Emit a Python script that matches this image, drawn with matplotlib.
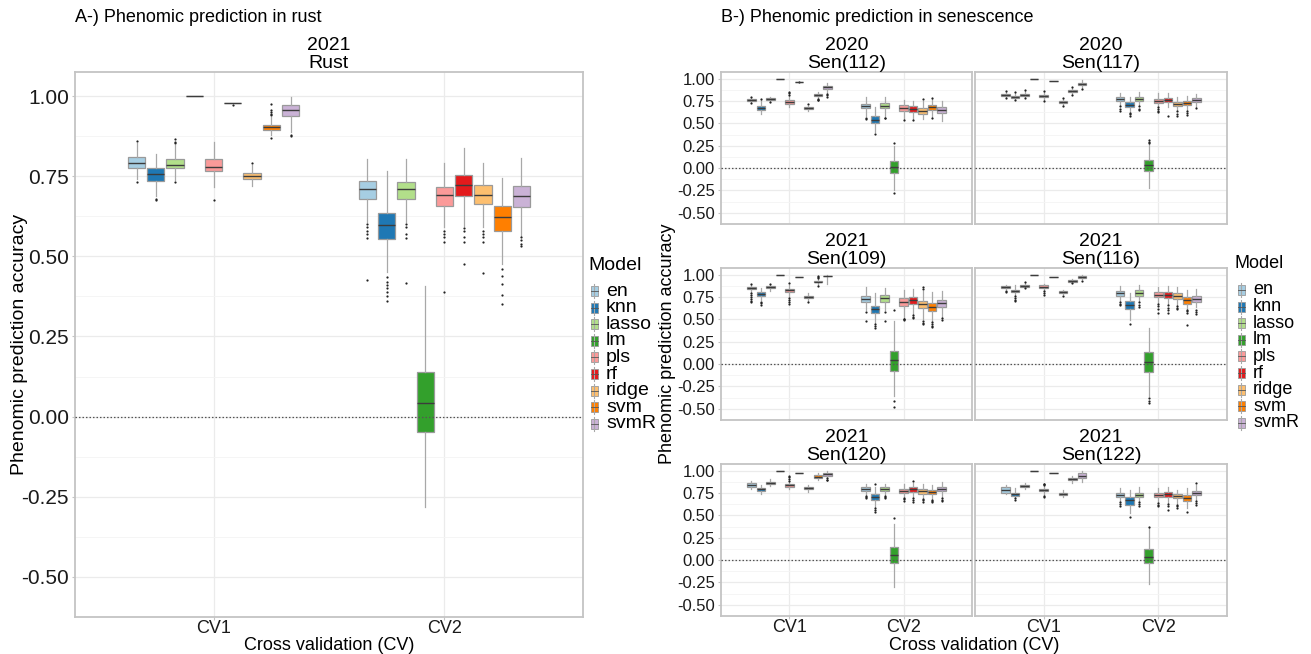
import numpy as np
import matplotlib.pyplot as plt
from matplotlib.patches import Rectangle
from matplotlib.lines import Line2D

plt.rcParams['font.family'] = ['Liberation Sans', 'DejaVu Sans']

models = ['en', 'knn', 'lasso', 'lm', 'pls', 'rf', 'ridge', 'svm', 'svmR']
colors = ['#A6CEE3', '#1F78B4', '#B2DF8A', '#33A02C', '#FB9A99',
          '#E31A1C', '#FDBF6F', '#FF7F00', '#CAB2D6']
cv_labels = ['CV1', 'CV2']
y_ticks = [-0.5, -0.25, 0.0, 0.25, 0.5, 0.75, 1.0]
y_tick_labels = ['-0.50', '-0.25', '0.00', '0.25', '0.50', '0.75', '1.00']

# box stats per model: (whisker low, q1, median, q3, whisker high)
rust_cv1 = [(0.74, 0.777, 0.792, 0.810, 0.855), (0.687, 0.735, 0.756, 0.774, 0.82),
            (0.738, 0.774, 0.786, 0.803, 0.848), (1.0, 1.0, 1.0, 1.0, 1.0),
            (0.717, 0.765, 0.780, 0.804, 0.857), (0.978, 0.978, 0.978, 0.978, 0.978),
            (0.72, 0.742, 0.751, 0.760, 0.785), (0.877, 0.893, 0.902, 0.909, 0.935),
            (0.889, 0.937, 0.955, 0.972, 0.998)]
rust_cv1_out = [[0.732, 0.86], [0.675, 0.678], [0.732, 0.852, 0.858, 0.865], [], [0.677],
                [0.972], [0.79], [0.87, 0.94, 0.945, 0.95, 0.955, 0.975], [0.875, 0.88]]
rust_cv2 = [(0.606, 0.680, 0.710, 0.735, 0.804), (0.45, 0.555, 0.598, 0.635, 0.765),
            (0.606, 0.680, 0.711, 0.733, 0.804), (-0.283, -0.049, 0.044, 0.138, 0.406),
            (0.59, 0.658, 0.692, 0.715, 0.791), (0.596, 0.687, 0.724, 0.755, 0.838),
            (0.59, 0.662, 0.692, 0.721, 0.792), (0.475, 0.579, 0.622, 0.657, 0.745),
            (0.565, 0.655, 0.689, 0.719, 0.808)]
rust_cv2_out = [[0.6, 0.59, 0.58, 0.57, 0.556, 0.427], [0.435, 0.42, 0.41, 0.40, 0.39, 0.375, 0.362],
                [0.6, 0.59, 0.57, 0.556, 0.417], [], [0.58, 0.57, 0.56, 0.545, 0.389],
                [0.588, 0.58, 0.56, 0.545, 0.475], [0.58, 0.57, 0.56, 0.545, 0.449],
                [0.46, 0.44, 0.415, 0.38, 0.35], [0.56, 0.55, 0.54, 0.533]]

s112_cv1 = [(0.735, 0.75, 0.758, 0.77, 0.785), (0.606, 0.646, 0.671, 0.697, 0.76),
            (0.745, 0.758, 0.769, 0.78, 0.79), (1.0, 1.0, 1.0, 1.0, 1.0),
            (0.682, 0.718, 0.736, 0.758, 0.81), (0.967, 0.967, 0.967, 0.967, 0.967),
            (0.643, 0.661, 0.671, 0.682, 0.70), (0.785, 0.805, 0.816, 0.827, 0.848),
            (0.84, 0.881, 0.903, 0.924, 0.957)]
s112_cv1_out = [[0.79, 0.726], [0.769], [0.735], [], [0.82, 0.835, 0.85], [0.962], [0.715],
                [0.775, 0.765, 0.76], [0.83, 0.815, 0.80]]
s112_cv2 = [(0.58, 0.668, 0.697, 0.722, 0.80), (0.40, 0.502, 0.542, 0.578, 0.68),
            (0.58, 0.668, 0.697, 0.726, 0.79), (-0.24, -0.058, 0.014, 0.076, 0.25),
            (0.55, 0.639, 0.671, 0.704, 0.76), (0.55, 0.625, 0.661, 0.69, 0.755),
            (0.545, 0.61, 0.639, 0.668, 0.75), (0.565, 0.65, 0.682, 0.711, 0.77),
            (0.527, 0.614, 0.646, 0.679, 0.755)]
s112_cv2_out = [[0.565, 0.55], [0.383], [0.565, 0.555], [0.285, -0.274], [0.535], [0.535],
                [0.769], [0.787, 0.555], []]

s117_cv1 = [(0.79, 0.805, 0.819, 0.83, 0.85), (0.77, 0.78, 0.791, 0.805, 0.84),
            (0.79, 0.809, 0.823, 0.834, 0.86), (1.0, 1.0, 1.0, 1.0, 1.0),
            (0.76, 0.794, 0.809, 0.82, 0.85), (0.971, 0.971, 0.971, 0.971, 0.971),
            (0.71, 0.729, 0.74, 0.751, 0.775), (0.83, 0.848, 0.863, 0.874, 0.90),
            (0.89, 0.928, 0.942, 0.957, 0.99)]
s117_cv1_out = [[0.859, 0.78], [0.852, 0.762], [0.87, 0.783], [], [0.863, 0.751], [],
                [0.783, 0.70], [0.906, 0.823], [0.881]]
s117_cv2 = [(0.70, 0.747, 0.769, 0.79, 0.845), (0.63, 0.679, 0.711, 0.736, 0.798),
            (0.70, 0.751, 0.773, 0.794, 0.848), (-0.22, -0.036, 0.032, 0.09, 0.27),
            (0.69, 0.733, 0.755, 0.776, 0.845), (0.68, 0.736, 0.762, 0.787, 0.835),
            (0.645, 0.697, 0.718, 0.74, 0.80), (0.645, 0.704, 0.729, 0.751, 0.805),
            (0.685, 0.74, 0.762, 0.783, 0.83)]
s117_cv2_out = [[0.69, 0.665, 0.643], [0.617, 0.60, 0.58], [0.69, 0.665, 0.645],
                [0.28, 0.29, 0.31], [0.68, 0.66, 0.64, 0.625], [0.58],
                [0.635, 0.61, 0.588], [0.64, 0.615, 0.595], [0.671]]

s109_cv1 = [(0.80, 0.838, 0.848, 0.859, 0.88), (0.72, 0.758, 0.783, 0.809, 0.85),
            (0.82, 0.848, 0.863, 0.877, 0.89), (1.0, 1.0, 1.0, 1.0, 1.0),
            (0.75, 0.809, 0.827, 0.845, 0.88), (0.975, 0.975, 0.975, 0.975, 0.975),
            (0.71, 0.74, 0.755, 0.765, 0.79), (0.89, 0.913, 0.924, 0.931, 0.95),
            (0.90, 0.982, 0.99, 0.99, 0.995)]
s109_cv1_out = [[0.90, 0.794, 0.77, 0.75, 0.73, 0.71, 0.70], [0.693, 0.68, 0.664], [0.90], [],
                [0.903, 0.74, 0.72, 0.70, 0.675], [], [0.70], [0.96, 0.975, 0.982, 0.875], []]
s109_cv2 = [(0.60, 0.70, 0.733, 0.765, 0.863), (0.46, 0.567, 0.614, 0.65, 0.794),
            (0.60, 0.70, 0.736, 0.773, 0.852), (-0.354, -0.076, 0.043, 0.144, 0.477),
            (0.52, 0.65, 0.697, 0.736, 0.83), (0.56, 0.675, 0.718, 0.747, 0.845),
            (0.50, 0.628, 0.675, 0.711, 0.82), (0.48, 0.596, 0.643, 0.679, 0.809),
            (0.52, 0.635, 0.682, 0.718, 0.82)]
s109_cv2_out = [[0.578, 0.477], [0.448, 0.43, 0.404], [0.585, 0.477], [0.61, -0.408, -0.48],
                [0.51, 0.50, 0.49], [0.55, 0.53, 0.513], [0.84, 0.866, 0.484, 0.465, 0.448],
                [0.47, 0.45, 0.43, 0.415], [0.513, 0.495]]

s116_cv1 = [(0.84, 0.848, 0.863, 0.877, 0.89), (0.77, 0.801, 0.816, 0.83, 0.88),
            (0.86, 0.866, 0.877, 0.888, 0.905), (1.0, 1.0, 1.0, 1.0, 1.0),
            (0.82, 0.848, 0.866, 0.88, 0.90), (0.975, 0.975, 0.975, 0.975, 0.975),
            (0.78, 0.798, 0.809, 0.82, 0.83), (0.91, 0.92, 0.931, 0.938, 0.955),
            (0.95, 0.967, 0.978, 0.986, 0.996)]
s116_cv1_out = [[0.82, 0.81], [0.758, 0.74, 0.72, 0.711], [0.917, 0.848], [],
                [0.82, 0.80, 0.776], [], [0.765], [0.903], [0.931]]
s116_cv2 = [(0.70, 0.762, 0.791, 0.82, 0.874), (0.49, 0.617, 0.664, 0.708, 0.794),
            (0.70, 0.765, 0.798, 0.827, 0.88), (-0.354, -0.083, 0.025, 0.13, 0.404),
            (0.68, 0.747, 0.776, 0.805, 0.863), (0.67, 0.74, 0.773, 0.801, 0.874),
            (0.66, 0.733, 0.765, 0.794, 0.866), (0.62, 0.675, 0.715, 0.747, 0.83),
            (0.64, 0.697, 0.729, 0.758, 0.838)]
s116_cv2_out = [[0.693, 0.675, 0.66], [0.451], [0.693, 0.665, 0.639], [-0.383, -0.41, -0.433],
                [0.675, 0.65, 0.62, 0.567], [0.66, 0.63, 0.60, 0.567], [0.65, 0.63, 0.614],
                [0.61, 0.59, 0.567, 0.44], [0.603, 0.58, 0.556]]

s120_cv1 = [(0.80, 0.823, 0.845, 0.859, 0.888), (0.745, 0.773, 0.791, 0.805, 0.845),
            (0.83, 0.856, 0.866, 0.877, 0.91), (1.0, 1.0, 1.0, 1.0, 1.0),
            (0.80, 0.823, 0.841, 0.852, 0.88), (0.975, 0.975, 0.975, 0.975, 0.975),
            (0.765, 0.794, 0.809, 0.82, 0.845), (0.90, 0.924, 0.935, 0.95, 0.97),
            (0.92, 0.946, 0.96, 0.975, 0.996)]
s120_cv1_out = [[], [], [], [], [0.89, 0.91, 0.925, 0.94], [], [], [], [0.913, 0.90, 0.892]]
s120_cv2 = [(0.73, 0.773, 0.794, 0.816, 0.856), (0.59, 0.671, 0.708, 0.74, 0.82),
            (0.73, 0.773, 0.794, 0.816, 0.856), (-0.296, -0.036, 0.061, 0.152, 0.404),
            (0.70, 0.747, 0.773, 0.794, 0.856), (0.70, 0.762, 0.791, 0.816, 0.86),
            (0.69, 0.744, 0.769, 0.794, 0.85), (0.68, 0.74, 0.765, 0.787, 0.84),
            (0.70, 0.769, 0.798, 0.823, 0.874)]
s120_cv2_out = [[0.72, 0.71, 0.70], [0.85, 0.585, 0.565, 0.542], [0.72, 0.71, 0.70], [0.466],
                [0.693, 0.68, 0.664], [0.881, 0.693, 0.675, 0.655], [0.685, 0.67, 0.65],
                [0.675, 0.66, 0.65], [0.69, 0.675, 0.66]]

s122_cv1 = [(0.736, 0.755, 0.78, 0.823, 0.845), (0.70, 0.722, 0.736, 0.751, 0.812),
            (0.80, 0.82, 0.83, 0.838, 0.859), (1.0, 1.0, 1.0, 1.0, 1.0),
            (0.73, 0.773, 0.787, 0.798, 0.83), (0.975, 0.975, 0.975, 0.975, 0.975),
            (0.704, 0.733, 0.744, 0.755, 0.787), (0.863, 0.892, 0.906, 0.917, 0.942),
            (0.877, 0.92, 0.946, 0.975, 0.996)]
s122_cv1_out = [[], [0.69, 0.675], [], [], [0.84, 0.85, 0.856, 0.72, 0.71], [], [], [], []]
s122_cv2 = [(0.66, 0.704, 0.729, 0.751, 0.801), (0.53, 0.621, 0.668, 0.704, 0.78),
            (0.66, 0.708, 0.733, 0.755, 0.816), (-0.267, -0.036, 0.04, 0.123, 0.368),
            (0.64, 0.704, 0.729, 0.751, 0.809), (0.64, 0.708, 0.736, 0.758, 0.823),
            (0.63, 0.693, 0.718, 0.74, 0.787), (0.58, 0.664, 0.693, 0.726, 0.801),
            (0.67, 0.726, 0.751, 0.776, 0.84)]
s122_cv2_out = [[0.65, 0.625, 0.603], [0.484], [0.65, 0.625, 0.603], [0.375],
                [0.635, 0.62, 0.603], [0.63, 0.60, 0.56], [0.62, 0.60, 0.58], [0.541],
                [0.866, 0.66, 0.64, 0.62]]

W, H = 1311, 654
fig = plt.figure(figsize=(W / 100, H / 100), dpi=100)

def rect(x0, y0, x1, y1):
    return [x0 / W, 1 - y1 / H, (x1 - x0) / W, (y1 - y0) / H]

def px(x, y):
    return x / W, 1 - y / H

GRID = '#ebebeb'
BORDER = '#c4c4c4'

def draw_panel(ax, groups, ytick_size, xtick_size, show_y=True, show_x=True):
    step = 0.75 / len(models)
    for g, (box_vals, outs) in enumerate(groups):
        stats = []
        for (lo, q1, med, q3, hi), fl in zip(box_vals, outs):
            stats.append(dict(whislo=lo, q1=q1, med=med, q3=q3, whishi=hi,
                              fliers=np.array(fl)))
        pos = [g + 1 + (i - 4) * step for i in range(len(models))]
        res = ax.bxp(stats, positions=pos, widths=step * 0.9, patch_artist=True,
                     showcaps=False, manage_ticks=False,
                     boxprops=dict(edgecolor='#9a9a9a', linewidth=0.9),
                     medianprops=dict(color='#3c3c3c', linewidth=1.0),
                     whiskerprops=dict(color='#a8a8a8', linewidth=0.9),
                     flierprops=dict(marker='o', markersize=1.6, markerfacecolor='#222222',
                                     markeredgecolor='none'))
        for b, c in zip(res['boxes'], colors):
            b.set_facecolor(c)
    ax.axhline(0, color='#555555', lw=0.9, ls=(0, (1.2, 1.6)), zorder=5)

    ax.set_xlim(0.4, 2.6)
    ax.set_ylim(-0.575, 1.075)
    ax.set_yticks(y_ticks)
    ax.set_yticks(np.arange(-0.625, 1.1, 0.25), minor=True)
    ax.set_xticks([1, 2])
    ax.grid(True, which='major', color=GRID, lw=0.9)
    ax.grid(True, which='minor', axis='y', color='#f4f4f4', lw=0.6)
    ax.set_axisbelow(True)
    for sp in ax.spines.values():
        sp.set_color(BORDER)
        sp.set_linewidth(1.3)
    ax.tick_params(which='minor', length=0)
    ax.tick_params(which='major', length=2.5, color=BORDER, width=0.8,
                   labelcolor='#1a1a1a')
    ax.tick_params(axis='y', labelsize=ytick_size, pad=2)
    ax.tick_params(axis='x', labelsize=xtick_size, pad=0)
    if show_y:
        ax.set_yticklabels(y_tick_labels)
    else:
        ax.tick_params(axis='y', length=0, labelleft=False)
    if show_x:
        ax.set_xticklabels(cv_labels)
    else:
        ax.tick_params(axis='x', length=0, labelbottom=False)

def draw_legend(x0, y0, size):
    fig.text(*px(x0, y0), 'Model', fontsize=size, va='center', ha='left')
    for i, (m, c) in enumerate(zip(models, colors)):
        y = y0 + 26 + i * 16.6
        kx = x0 + 6
        fig.add_artist(Line2D([kx / W, kx / W], [1 - (y - 7) / H, 1 - (y + 7) / H],
                              color='#a8a8a8', lw=0.8, transform=fig.transFigure))
        fig.add_artist(Rectangle(((kx - 3.5) / W, 1 - (y + 5) / H), 7 / W, 10 / H,
                                 facecolor=c, edgecolor='#9a9a9a', lw=0.6,
                                 transform=fig.transFigure))
        fig.add_artist(Line2D([(kx - 3.5) / W, (kx + 3.5) / W], [1 - y / H, 1 - y / H],
                              color='#555555', lw=0.6, transform=fig.transFigure))
        fig.text(*px(x0 + 18, y), m, fontsize=size, va='center', ha='left')

# A) rust
ax_a = fig.add_axes(rect(75, 72, 583, 617))
draw_panel(ax_a, [(rust_cv1, rust_cv1_out), (rust_cv2, rust_cv2_out)], 15, 13)
ax_a.set_title('2021\nRust', fontsize=14, linespacing=1.05, pad=3)
fig.text(*px(75, 18), 'A-) Phenomic prediction in rust', fontsize=13, va='center', ha='left')
fig.text(*px(20, 344), 'Phenomic prediction accuracy', fontsize=14, rotation=90,
         va='center', ha='center')
fig.text(*px(329, 645), 'Cross validation (CV)', fontsize=13, va='center', ha='center')
draw_legend(588, 265, 14)

# B) senescence facets
facets = [('2020\nSen(112)', s112_cv1, s112_cv1_out, s112_cv2, s112_cv2_out),
          ('2020\nSen(117)', s117_cv1, s117_cv1_out, s117_cv2, s117_cv2_out),
          ('2021\nSen(109)', s109_cv1, s109_cv1_out, s109_cv2, s109_cv2_out),
          ('2021\nSen(116)', s116_cv1, s116_cv1_out, s116_cv2, s116_cv2_out),
          ('2021\nSen(120)', s120_cv1, s120_cv1_out, s120_cv2, s120_cv2_out),
          ('2021\nSen(122)', s122_cv1, s122_cv1_out, s122_cv2, s122_cv2_out)]
cols = [(721, 972), (975, 1227)]
rows = [(72, 224), (268, 420), (464, 616)]
for k, (title, c1, o1, c2, o2) in enumerate(facets):
    r, c = divmod(k, 2)
    ax = fig.add_axes(rect(cols[c][0], rows[r][0], cols[c][1], rows[r][1]))
    draw_panel(ax, [(c1, o1), (c2, o2)], 12, 13, show_y=(c == 0), show_x=(r == 2))
    ax.set_title(title, fontsize=14, linespacing=1.05, pad=3)

fig.text(*px(721, 18), 'B-) Phenomic prediction in senescence', fontsize=13,
         va='center', ha='left')
fig.text(*px(668, 344), 'Phenomic prediction accuracy', fontsize=13, rotation=90,
         va='center', ha='center')
fig.text(*px(974, 645), 'Cross validation (CV)', fontsize=13, va='center', ha='center')
draw_legend(1235, 264, 13)

fig.savefig('out.png', dpi=100)
